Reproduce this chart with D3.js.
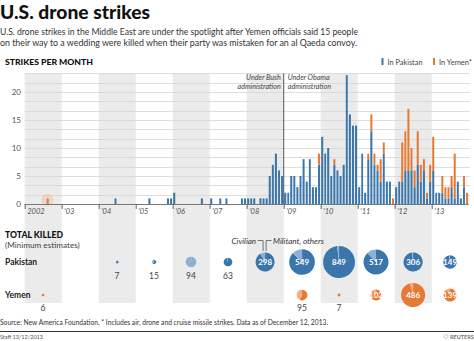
<!DOCTYPE html>
<html>
<head>
<meta charset="utf-8">
<script src="https://cdn.jsdelivr.net/npm/d3@7"></script>
<style>
  body { margin: 0; background: #fff; }
  svg { display: block; font-family: Lato, "Open Sans", sans-serif; }
</style>
</head>
<body>
<div id="graf"></div>
<script>
// Datos
const years = d3.range(2002, 2014)
const yearLabels = ["2002", "'03", "'04", "'05", "'06", "'07", "'08", "'09", "'10", "'11", "'12", "'13"]
const strikeTicks = [0, 5, 10, 15, 20]

// strikes per month (Jan..Dec), one row per year
const pakistanStrikes = [
  [0, 0, 0, 0, 0, 0, 0, 0, 0, 0, 0, 0],
  [0, 0, 0, 0, 0, 0, 0, 0, 0, 0, 0, 0],
  [0, 0, 0, 0, 0, 1, 0, 0, 0, 0, 0, 0],
  [0, 0, 0, 0, 1, 0, 0, 0, 0, 0, 1, 1],
  [2, 0, 0, 0, 0, 0, 0, 0, 0, 1, 0, 0],
  [1, 0, 0, 1, 0, 1, 0, 0, 0, 0, 1, 1],
  [1, 1, 1, 0, 1, 1, 1, 5, 7, 9, 6, 5],
  [2, 2, 5, 5, 3, 5, 8, 4, 8, 3, 3, 7],
  [12, 9, 10, 5, 7, 6, 5, 7, 23, 16, 14, 14],
  [3, 9, 2, 8, 13, 7, 6, 4, 9, 4, 4, 0],
  [3, 4, 4, 6, 6, 6, 3, 7, 4, 6, 1, 4],
  [6, 2, 2, 2, 1, 1, 3, 1, 4, 1, 3, 0],
]
const yemenStrikes = [
  [0, 0, 0, 0, 0, 0, 0, 1, 0, 0, 0, 0],
  [0, 0, 0, 0, 0, 0, 0, 0, 0, 0, 0, 0],
  [0, 0, 0, 0, 0, 0, 0, 0, 0, 0, 0, 0],
  [0, 0, 0, 0, 0, 0, 0, 0, 0, 0, 0, 0],
  [0, 0, 0, 0, 0, 0, 0, 0, 0, 0, 0, 0],
  [0, 0, 0, 0, 0, 0, 0, 0, 0, 0, 0, 0],
  [0, 0, 0, 0, 0, 0, 0, 0, 0, 0, 0, 0],
  [0, 0, 0, 0, 0, 0, 0, 0, 0, 0, 0, 2],
  [0, 0, 0, 0, 1, 0, 0, 0, 0, 0, 0, 0],
  [0, 0, 0, 1, 3, 2, 1, 4, 2, 0, 0, 1],
  [0, 0, 7, 7, 11, 4, 3, 6, 3, 2, 1, 3],
  [6, 0, 0, 3, 2, 2, 2, 8, 0, 0, 2, 2],
]

// total killed per year (minimum estimates)
const pakistanKilled = [0, 0, 7, 15, 94, 63, 298, 549, 849, 517, 306, 149]
const pakistanCivilians = [0, 0, 2, 6, 93, 2, 25, 70, 16, 62, 5, 4]
const yemenKilled = [6, 0, 0, 0, 0, 0, 0, 95, 7, 102, 486, 139]
const yemenCivilians = [0, 0, 0, 0, 0, 0, 0, 41, 0, 11, 20, 14]

const W = 474
const H = 341
const colPak = "#3a76ab"
const colPakLight = "#8eb0d4"
const colYem = "#e67a34"
const colYemLight = "#f4ae7c"

const svg = d3.select("#graf").append("svg").attr("width", W).attr("height", H)

// Escaladores
const x = d3
  .scaleTime()
  .domain([new Date(2002, 0, 1), new Date(2014, 0, 1)])
  .range([24.7, 468.7])
const y = d3.scaleLinear().domain([0, 20]).range([204, 92])
const r = d3.scaleSqrt().domain([0, 849]).range([0, 16])
const yTop = y(70 / 3)

// Encabezado
svg.append("text").attr("x", 0).attr("y", 18.5)
  .attr("font-size", 19).attr("font-weight", 900).attr("fill", "#111")
  .attr("textLength", 150).attr("lengthAdjust", "spacingAndGlyphs")
  .text("U.S. drone strikes")
const sub = [
  "U.S. drone strikes in the Middle East are under the spotlight after Yemen officials said 15 people",
  "on their way to a wedding were killed when their party was mistaken for an al Qaeda convoy.",
]
svg.selectAll(".sub").data(sub).join("text").attr("class", "sub")
  .attr("x", 0).attr("y", (d, i) => 34.5 + i * 11.8)
  .attr("font-size", 9.8).attr("fill", "#333")
  .attr("textLength", (d, i) => [358, 357][i]).attr("lengthAdjust", "spacingAndGlyphs")
  .text((d) => d)

svg.append("text").attr("x", 5).attr("y", 64.5)
  .attr("font-size", 8).attr("font-weight", 900).attr("fill", "#111")
  .attr("textLength", 88).attr("lengthAdjust", "spacingAndGlyphs")
  .text("STRIKES PER MONTH")

// Leyenda
const legend = [
  { label: "In Pakistan", color: colPak, x: 381.5, w: 35 },
  { label: "In Yemen*", color: colYem, x: 433, w: 33 },
]
legend.forEach((l) => {
  svg.append("rect").attr("x", l.x).attr("y", 58).attr("width", 2).attr("height", 7).attr("fill", l.color)
  svg.append("text").attr("x", l.x + 6).attr("y", 64.5).attr("font-size", 8).attr("fill", "#444")
    .attr("textLength", l.w).attr("lengthAdjust", "spacingAndGlyphs").text(l.label)
})

// Bandas de años alternos
svg.selectAll(".band").data(years.filter((d) => d % 2 === 0)).join("rect").attr("class", "band")
  .attr("x", (d) => x(new Date(d, 0, 1)))
  .attr("y", yTop)
  .attr("width", (d) => x(new Date(d + 1, 0, 1)) - x(new Date(d, 0, 1)))
  .attr("height", 303 - yTop)
  .attr("fill", "#ebebeb")

// Rejilla
const grid = d3.range(1, 15).map((i) => (i * 5) / 3)
svg.selectAll(".grid").data(grid).join("line").attr("class", "grid")
  .attr("x1", 24.7).attr("x2", 470)
  .attr("y1", (d) => Math.round(y(d)) + 0.5).attr("y2", (d) => Math.round(y(d)) + 0.5)
  .attr("stroke", "#d6d6d6").attr("stroke-width", 0.8)

svg.selectAll(".ylab").data(strikeTicks).join("text").attr("class", "ylab")
  .attr("x", 21).attr("y", (d) => y(d) + 3)
  .attr("text-anchor", "end").attr("font-size", 8).attr("fill", "#555")
  .text((d) => d)

// glow around first Yemen strike
svg.append("circle").attr("cx", x(new Date(2002, 7, 15))).attr("cy", 200).attr("r", 6)
  .attr("fill", colYem).attr("opacity", 0.18)

// Barras
const months = []
years.forEach((yr, i) => {
  d3.range(12).forEach((m) => {
    months.push({ date: new Date(yr, m, 1), next: new Date(yr, m + 1, 1), pak: pakistanStrikes[i][m], yem: yemenStrikes[i][m] })
  })
})
const bw = (d) => x(d.next) - x(d.date) - 1.1
svg.selectAll(".pak").data(months.filter((d) => d.pak > 0)).join("rect").attr("class", "pak")
  .attr("x", (d) => x(d.date) + 0.5).attr("width", bw)
  .attr("y", (d) => y(d.pak)).attr("height", (d) => y(0) - y(d.pak))
  .attr("fill", colPak)
svg.selectAll(".yem").data(months.filter((d) => d.yem > 0)).join("rect").attr("class", "yem")
  .attr("x", (d) => x(d.date) + 0.5).attr("width", bw)
  .attr("y", (d) => y(d.pak + d.yem)).attr("height", (d) => y(d.pak) - y(d.pak + d.yem))
  .attr("fill", colYem)

// Eje x
const xAxis = d3.axisBottom(x)
  .tickValues(years.map((d) => new Date(d, 0, 1)))
  .tickSize(5)
  .tickFormat((d, i) => yearLabels[i])
const xg = svg.append("g").attr("transform", `translate(0, ${y(0)})`).call(xAxis)
xg.select(".domain").attr("stroke", "#777").attr("d", `M24.7,0.5H468.7`)
xg.selectAll(".tick line").attr("stroke", "#666")
xg.selectAll(".tick text").attr("text-anchor", "start").attr("x", 2).attr("dy", "0.2em")
  .attr("font-size", 7.5).attr("font-style", "italic").attr("fill", "#555")
  .attr("font-family", "Lato, sans-serif")

// Anotación Bush / Obama
const xObama = x(new Date(2009, 0, 1))
svg.append("line").attr("x1", xObama).attr("x2", xObama).attr("y1", yTop).attr("y2", y(0))
  .attr("stroke", "#555").attr("stroke-width", 1)
const ann = [
  { t: "Under Bush", x: xObama - 3, yy: 80, a: "end" },
  { t: "administration", x: xObama - 3, yy: 88.8, a: "end" },
  { t: "Under Obama", x: xObama + 4, yy: 80, a: "start" },
  { t: "administration", x: xObama + 4, yy: 88.8, a: "start" },
]
svg.selectAll(".ann").data(ann).join("text").attr("class", "ann")
  .attr("x", (d) => d.x).attr("y", (d) => d.yy).attr("text-anchor", (d) => d.a)
  .attr("font-size", 7.2).attr("font-style", "italic").attr("fill", "#444")
  .text((d) => d.t)

// Total killed
svg.append("text").attr("x", 5).attr("y", 237.5)
  .attr("font-size", 9.5).attr("font-weight", 900).attr("fill", "#111")
  .attr("textLength", 58).attr("lengthAdjust", "spacingAndGlyphs").text("TOTAL KILLED")
svg.append("text").attr("x", 5).attr("y", 247.5)
  .attr("font-size", 8.2).attr("fill", "#444").text("(Minimum estimates)")
svg.append("text").attr("x", 5).attr("y", 265).attr("font-size", 8.5).attr("font-weight", 700).attr("fill", "#222").text("Pakistan")
svg.append("text").attr("x", 5).attr("y", 298).attr("font-size", 8.5).attr("font-weight", 700).attr("fill", "#222").text("Yemen")

const pie = d3.pie().sort(null).value((d) => d)
const arc = d3.arc().innerRadius(0)
const rows = [
  { cy: 262, killed: pakistanKilled, civ: pakistanCivilians, dark: colPak, light: colPakLight, below: 13.5 },
  { cy: 295, killed: yemenKilled, civ: yemenCivilians, dark: colYem, light: colYemLight, below: 12.5 },
]
rows.forEach((row) => {
  years.forEach((yr, i) => {
    const v = row.killed[i]
    if (!v) return
    const cx = x(new Date(yr, 6, 1))
    const rad = r(v)
    const g = svg.append("g").attr("transform", `translate(${cx}, ${row.cy})`)
    g.selectAll("path").data(pie([v - row.civ[i], row.civ[i]])).join("path")
      .attr("d", (d) => arc.outerRadius(rad)(d))
      .attr("fill", (d, j) => (j === 0 ? row.dark : row.light))
    if (v > 100) {
      g.append("text").attr("y", 2.8).attr("text-anchor", "middle")
        .attr("font-size", 8).attr("font-weight", 700).attr("fill", "#fff").text(v)
    } else {
      g.append("text").attr("y", row.below + 3).attr("text-anchor", "middle")
        .attr("font-size", 8.5).attr("fill", "#444").text(v)
    }
  })
})

// Civilian / Militant callout
const cx08 = x(new Date(2008, 6, 1))
svg.append("text").attr("x", cx08 - 9).attr("y", 243.5).attr("text-anchor", "end")
  .attr("font-size", 8).attr("font-style", "italic").attr("fill", "#333").text("Civilian")
svg.append("text").attr("x", cx08 + 8).attr("y", 243.5)
  .attr("font-size", 8).attr("font-style", "italic").attr("fill", "#333").text("Militant, others")
svg.append("path").attr("d", `M${cx08 - 7.5},240.5H${cx08 - 2}V251`).attr("fill", "none").attr("stroke", "#555").attr("stroke-width", 0.8)
svg.append("path").attr("d", `M${cx08 + 6.5},240.5H${cx08 + 1}V251`).attr("fill", "none").attr("stroke", "#555").attr("stroke-width", 0.8)

// Pie de página
svg.append("text").attr("x", 0).attr("y", 324.5).attr("font-size", 7.8).attr("fill", "#333")
  .attr("textLength", 328).attr("lengthAdjust", "spacingAndGlyphs")
  .text("Source: New America Foundation. * Includes air, drone and cruise missile strikes.  Data as of December 12, 2013.")
svg.append("line").attr("x1", 0).attr("x2", W).attr("y1", 331.5).attr("y2", 331.5).attr("stroke", "#333").attr("stroke-width", 1)
svg.append("text").attr("x", 0).attr("y", 339).attr("font-size", 5.5).attr("fill", "#555").text("Staff 13/12/2013")
svg.append("circle").attr("cx", 446).attr("cy", 336.5).attr("r", 2).attr("fill", "none").attr("stroke", "#888").attr("stroke-width", 0.8).attr("stroke-dasharray", "0.8 0.6")
svg.append("text").attr("x", 450).attr("y", 338.5).attr("font-size", 5.5).attr("font-weight", 700).attr("fill", "#777").text("REUTERS")
</script>
</body>
</html>
